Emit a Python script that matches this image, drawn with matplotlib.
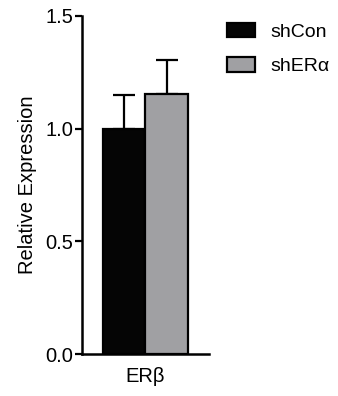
import matplotlib
matplotlib.use("Agg")
import matplotlib.pyplot as plt

### Data ------------------------------------------------------------------------

groups = ["shCon", "shER\u03b1"]
means = [1.0, 1.155]
errors = [0.15, 0.15]
colors = ["#050505", "#a0a0a3"]
category = "ER\u03b2"

### Plot -------------------------------------------------------------------------

plt.rcParams["font.family"] = ["Liberation Sans", "DejaVu Sans"]
plt.rcParams["font.size"] = 14.5

fig = plt.figure(figsize=(3.38, 3.96), dpi=100)
ax = fig.add_axes([0.2426, 0.106, 0.3757, 0.8536])

positions = [-0.5, 0.5]
for pos, m, e, c, g in zip(positions, means, errors, colors, groups):
    ax.bar(pos, m, width=1.0, color=c, edgecolor="black", linewidth=1.6, label=g, zorder=2)
    ax.errorbar(pos, m, yerr=[[0], [e]], fmt="none", ecolor="black",
                elinewidth=1.6, capsize=8, capthick=1.6, zorder=1)

ax.set_xlim(-1.5, 1.5)
ax.set_ylim(0, 1.5)
ax.set_yticks([0, 0.5, 1.0, 1.5])
ax.set_yticklabels(["0.0", "0.5", "1.0", "1.5"])
ax.set_xticks([0])
ax.set_xticklabels([category])
ax.tick_params(axis="x", length=0, pad=9)
ax.tick_params(axis="y", length=5, width=1.6, pad=1.5)
ax.set_ylabel("Relative Expression", labelpad=6)

for side in ["top", "right"]:
    ax.spines[side].set_visible(False)
for side in ["left", "bottom"]:
    ax.spines[side].set_linewidth(1.8)

fig.legend(loc="upper left", bbox_to_anchor=(0.672, 0.942), frameon=False,
           fontsize=14, borderpad=0, borderaxespad=0, handlelength=1.45,
           handleheight=0.75, handletextpad=0.75, labelspacing=0.85)

fig.savefig("out.png", dpi=100)
